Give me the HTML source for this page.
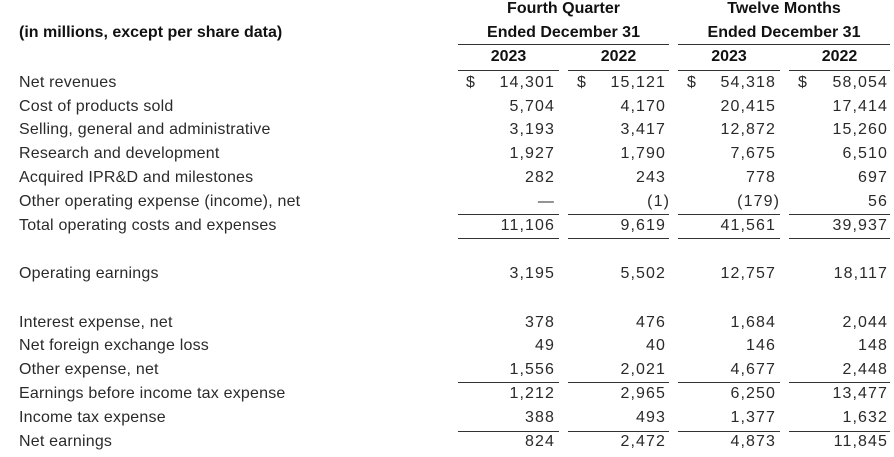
<!DOCTYPE html>
<html><head><meta charset="utf-8"><style>
body{margin:0;width:894px;height:456px;background:#fff;position:relative;overflow:hidden;font-family:"Liberation Sans",sans-serif;font-size:16px;color:#2a2a2a}
.t{position:absolute;line-height:20px;white-space:nowrap;top:1px;letter-spacing:0.2px}
.b{font-weight:bold;color:#111;letter-spacing:0}
.r{text-align:right;letter-spacing:1.1px;margin-right:-1px}
.c{text-align:center}
.l{position:absolute;height:1px;background:#333}
.w{position:absolute;left:0;top:1px;width:894px;height:456px}
</style></head><body>
<div class="w">
<div class="t b c" style="left:458px;width:211px;top:-2px">Fourth Quarter</div>
<div class="t b c" style="left:678px;width:212px;top:-2px">Twelve Months</div>
<div class="t b" style="left:19px;top:22px">(in millions, except per share data)</div>
<div class="t b c" style="left:458px;width:211px;top:22px">Ended December 31</div>
<div class="t b c" style="left:678px;width:212px;top:22px">Ended December 31</div>
<div class="t b c" style="left:458px;width:101px;top:46px">2023</div>
<div class="t b c" style="left:568px;width:101px;top:46px">2022</div>
<div class="t b c" style="left:678px;width:102px;top:46px">2023</div>
<div class="t b c" style="left:789px;width:101px;top:46px">2022</div>
<div class="t" style="left:466px;top:72px">$</div>
<div class="t" style="left:577px;top:72px">$</div>
<div class="t" style="left:687px;top:72px">$</div>
<div class="t" style="left:798px;top:72px">$</div>

<div class="t" style="left:19px;top:72px">Net revenues</div><div class="t r" style="right:340px;top:72px">14,301</div><div class="t r" style="right:229px;top:72px">15,121</div><div class="t r" style="right:119px;top:72px">54,318</div><div class="t r" style="right:7px;top:72px">58,054</div>
<div class="t" style="left:19px;top:96px">Cost of products sold</div><div class="t r" style="right:340px;top:96px">5,704</div><div class="t r" style="right:229px;top:96px">4,170</div><div class="t r" style="right:119px;top:96px">20,415</div><div class="t r" style="right:7px;top:96px">17,414</div>
<div class="t" style="left:19px;top:119px">Selling, general and administrative</div><div class="t r" style="right:340px;top:119px">3,193</div><div class="t r" style="right:229px;top:119px">3,417</div><div class="t r" style="right:119px;top:119px">12,872</div><div class="t r" style="right:7px;top:119px">15,260</div>
<div class="t" style="left:19px;top:143px">Research and development</div><div class="t r" style="right:340px;top:143px">1,927</div><div class="t r" style="right:229px;top:143px">1,790</div><div class="t r" style="right:119px;top:143px">7,675</div><div class="t r" style="right:7px;top:143px">6,510</div>
<div class="t" style="left:19px;top:167px">Acquired IPR&amp;D and milestones</div><div class="t r" style="right:340px;top:167px">282</div><div class="t r" style="right:229px;top:167px">243</div><div class="t r" style="right:119px;top:167px">778</div><div class="t r" style="right:7px;top:167px">697</div>
<div class="t" style="left:19px;top:191px">Other operating expense (income), net</div><div class="t r" style="right:340px;top:191px">—</div><div class="t r" style="right:225px;top:191px">(1)</div><div class="t r" style="right:115px;top:191px">(179)</div><div class="t r" style="right:7px;top:191px">56</div>
<div class="t" style="left:19px;top:215px">Total operating costs and expenses</div><div class="t r" style="right:340px;top:215px">11,106</div><div class="t r" style="right:229px;top:215px">9,619</div><div class="t r" style="right:119px;top:215px">41,561</div><div class="t r" style="right:7px;top:215px">39,937</div>
<div class="t" style="left:19px;top:263px">Operating earnings</div><div class="t r" style="right:340px;top:263px">3,195</div><div class="t r" style="right:229px;top:263px">5,502</div><div class="t r" style="right:119px;top:263px">12,757</div><div class="t r" style="right:7px;top:263px">18,117</div>
<div class="t" style="left:19px;top:312px">Interest expense, net</div><div class="t r" style="right:340px;top:312px">378</div><div class="t r" style="right:229px;top:312px">476</div><div class="t r" style="right:119px;top:312px">1,684</div><div class="t r" style="right:7px;top:312px">2,044</div>
<div class="t" style="left:19px;top:335px">Net foreign exchange loss</div><div class="t r" style="right:340px;top:335px">49</div><div class="t r" style="right:229px;top:335px">40</div><div class="t r" style="right:119px;top:335px">146</div><div class="t r" style="right:7px;top:335px">148</div>
<div class="t" style="left:19px;top:359px">Other expense, net</div><div class="t r" style="right:340px;top:359px">1,556</div><div class="t r" style="right:229px;top:359px">2,021</div><div class="t r" style="right:119px;top:359px">4,677</div><div class="t r" style="right:7px;top:359px">2,448</div>
<div class="t" style="left:19px;top:383px">Earnings before income tax expense</div><div class="t r" style="right:340px;top:383px">1,212</div><div class="t r" style="right:229px;top:383px">2,965</div><div class="t r" style="right:119px;top:383px">6,250</div><div class="t r" style="right:7px;top:383px">13,477</div>
<div class="t" style="left:19px;top:407px">Income tax expense</div><div class="t r" style="right:340px;top:407px">388</div><div class="t r" style="right:229px;top:407px">493</div><div class="t r" style="right:119px;top:407px">1,377</div><div class="t r" style="right:7px;top:407px">1,632</div>
<div class="t" style="left:19px;top:431px">Net earnings</div><div class="t r" style="right:340px;top:431px">824</div><div class="t r" style="right:229px;top:431px">2,472</div><div class="t r" style="right:119px;top:431px">4,873</div><div class="t r" style="right:7px;top:431px">11,845</div>
</div>
<div class="l" style="left:458px;width:211px;top:44px"></div>
<div class="l" style="left:678px;width:212px;top:44px"></div>
<div class="l" style="left:458px;width:101px;top:70px"></div><div class="l" style="left:568px;width:101px;top:70px"></div><div class="l" style="left:678px;width:102px;top:70px"></div><div class="l" style="left:789px;width:101px;top:70px"></div>
<div class="l" style="left:458px;width:101px;top:214px"></div><div class="l" style="left:568px;width:101px;top:214px"></div><div class="l" style="left:678px;width:102px;top:214px"></div><div class="l" style="left:789px;width:101px;top:214px"></div>
<div class="l" style="left:458px;width:101px;top:238px"></div><div class="l" style="left:568px;width:101px;top:238px"></div><div class="l" style="left:678px;width:102px;top:238px"></div><div class="l" style="left:789px;width:101px;top:238px"></div>
<div class="l" style="left:458px;width:101px;top:382px"></div><div class="l" style="left:568px;width:101px;top:382px"></div><div class="l" style="left:678px;width:102px;top:382px"></div><div class="l" style="left:789px;width:101px;top:382px"></div>
<div class="l" style="left:458px;width:101px;top:431px"></div><div class="l" style="left:568px;width:101px;top:431px"></div><div class="l" style="left:678px;width:102px;top:431px"></div><div class="l" style="left:789px;width:101px;top:431px"></div>
</body></html>
